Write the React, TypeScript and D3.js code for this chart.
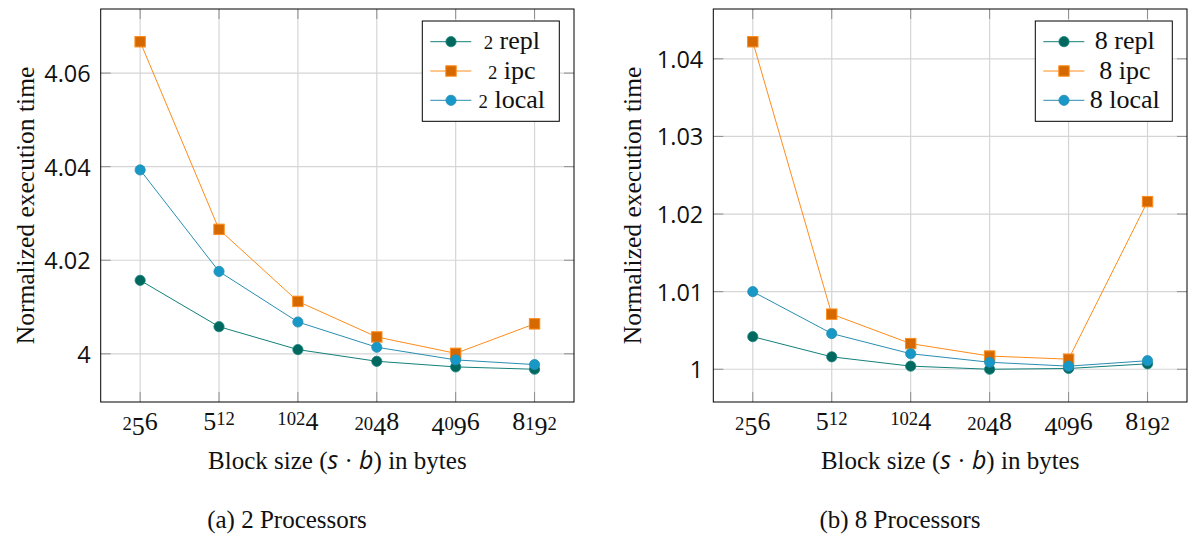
import React from 'react';
import * as d3 from 'd3';

// ---- data ----
const categories = ['256', '512', '1024', '2048', '4096', '8192'];
const repl2 = [4.0157, 4.0058, 4.0009, 3.9984, 3.9972, 3.9967];
const ipc2 = [4.0667, 4.0266, 4.0112, 4.0036, 4.0001, 4.0064];
const local2 = [4.0393, 4.0176, 4.0068, 4.0014, 3.9987, 3.9977];
const repl8 = [1.0042, 1.0016, 1.0004, 1.0, 1.0001, 1.0007];
const ipc8 = [1.0422, 1.0071, 1.0033, 1.0017, 1.0013, 1.0216];
const local8 = [1.01, 1.0046, 1.002, 1.0009, 1.0004, 1.0011];
const yTicks2 = [4, 4.02, 4.04, 4.06];
const yTicks8 = [1, 1.01, 1.02, 1.03, 1.04];
const seriesNames = ['repl', 'ipc', 'local'];

const STYLES: Record<string, { line: string; fill: string; stroke: string; shape: string }> = {
  repl: { line: '#13807a', fill: '#00695f', stroke: '#13807a', shape: 'circle' },
  ipc: { line: '#ff8c1a', fill: '#d66800', stroke: '#ff8c1a', shape: 'square' },
  local: { line: '#2a8db2', fill: '#1898c6', stroke: '#2a8db2', shape: 'circle' },
};

const SERIF = '"Liberation Serif", "Times New Roman", serif';
const SANS = '"Open Sans", "Noto Sans", sans-serif';
const FS = 25;
const SMALL = 0.72;
const DESC = 0.21;

// emulate old-style figures of the original typeface
function oldStyle(str: string, fs: number) {
  let cur = 0;
  const parts = str.split('').map((c, i) => {
    let size = fs;
    let off = 0;
    if ('012'.includes(c)) size = fs * SMALL;
    else if ('34579'.includes(c)) off = fs * DESC;
    const dy = off - cur;
    cur = off;
    return (
      <tspan key={i} dy={dy} fontSize={size}>
        {c}
      </tspan>
    );
  });
  return parts;
}

// labels are hung from their top edge (like TeX nodes anchored north)
function labelBaseline(str: string, topY: number, fs: number) {
  const hasAsc = /[68]/.test(str);
  return topY + (hasAsc ? 0.66 * fs : 0.66 * SMALL * fs);
}

function Marker({ shape, cx, cy, st }: any) {
  if (shape === 'square') {
    return <rect x={cx - 5.2} y={cy - 5.2} width={10.4} height={10.4} fill={st.fill} stroke={st.stroke} strokeWidth={1} />;
  }
  return <circle cx={cx} cy={cy} r={5.1} fill={st.fill} stroke={st.stroke} strokeWidth={0.8} />;
}

function Panel({ left, right, top, bottom, series, yTicks, prefix, caption, captionX, yTitleX }: any) {
  const x = d3.scalePoint<string>().domain(categories).range([left, right]).padding(0.5);
  const all: number[] = series.flatMap((s: any) => s.values);
  const [mn, mx] = d3.extent(all) as [number, number];
  const pad = (mx - mn) * 0.1;
  const y = d3.scaleLinear().domain([mn - pad, mx + pad]).range([bottom, top]);
  const line = d3
    .line<number>()
    .x((_, i) => x(categories[i]) as number)
    .y((d) => y(d));
  const tickLen = 10;
  const fmt = (v: number) => String(+v.toFixed(2));
  const lw = 137;
  const lh = 100.3;
  const lx = right - 14.7 - lw;
  const ly = top + 12;
  const cx = (left + right) / 2;
  const cy = (top + bottom) / 2;

  return (
    <g>
      {/* grid */}
      {categories.map((c) => (
        <line key={'gx' + c} x1={x(c)} x2={x(c)} y1={top} y2={bottom} stroke="#d5d5d5" strokeWidth={1.2} />
      ))}
      {yTicks.map((t: number) => (
        <line key={'gy' + t} x1={left} x2={right} y1={y(t)} y2={y(t)} stroke="#d5d5d5" strokeWidth={1.2} />
      ))}
      {/* ticks */}
      {categories.map((c) => (
        <g key={'tx' + c}>
          <line x1={x(c)} x2={x(c)} y1={bottom} y2={bottom - tickLen} stroke="#8f8f8f" strokeWidth={1} />
          <line x1={x(c)} x2={x(c)} y1={top} y2={top + tickLen} stroke="#8f8f8f" strokeWidth={1} />
        </g>
      ))}
      {yTicks.map((t: number) => (
        <g key={'ty' + t}>
          <line x1={left} x2={left + tickLen} y1={y(t)} y2={y(t)} stroke="#8f8f8f" strokeWidth={1} />
          <line x1={right} x2={right - tickLen} y1={y(t)} y2={y(t)} stroke="#8f8f8f" strokeWidth={1} />
        </g>
      ))}
      {/* series */}
      {series.map((s: any) => {
        const st = STYLES[s.name];
        return (
          <g key={s.name}>
            <path d={line(s.values) as string} fill="none" stroke={st.line} strokeWidth={1} />
            {s.values.map((v: number, i: number) => (
              <Marker key={i} shape={st.shape} cx={x(categories[i])} cy={y(v)} st={st} />
            ))}
          </g>
        );
      })}
      {/* frame */}
      <rect x={left} y={top} width={right - left} height={bottom - top} fill="none" stroke="#000" strokeWidth={1} />
      {/* y tick labels */}
      {yTicks.map((t: number) => (
        <text
          key={'yl' + t}
          x={left - 10}
          y={y(t)}
          textAnchor="end"
          dominantBaseline="central"
          fontFamily={SANS}
          fontSize={23.5}
          fill="#111"
        >
          {fmt(t)}
        </text>
      ))}
      {/* x tick labels */}
      {categories.map((c) => (
        <text
          key={'xl' + c}
          x={x(c)}
          y={labelBaseline(c, 413, FS)}
          textAnchor="middle"
          fontFamily={SERIF}
          fill="#111"
        >
          {oldStyle(c, FS + 1)}
        </text>
      ))}
      {/* axis titles */}
      <text x={cx} y={469} textAnchor="middle" fontFamily={SERIF} fontSize={FS} fill="#111">
        Block size (
        <tspan fontFamily={SANS} fontStyle="italic">s</tspan>
        {' · '}
        <tspan fontFamily={SANS} fontStyle="italic">b</tspan>) in bytes
      </text>
      <text
        transform={`translate(${yTitleX},${cy}) rotate(-90)`}
        textAnchor="middle"
        fontFamily={SERIF}
        fontSize={FS + 0.5}
        fill="#111"
      >
        Normalized execution time
      </text>
      {/* caption */}
      <text x={captionX} y={528} textAnchor="middle" fontFamily={SERIF} fontSize={FS} fill="#111">
        {caption}
      </text>
      {/* legend */}
      <rect x={lx} y={ly} width={lw} height={lh} fill="#fff" stroke="#000" strokeWidth={1} />
      {series.map((s: any, i: number) => {
        const st = STYLES[s.name];
        const ry = ly + 20.7 + i * 29.3;
        return (
          <g key={'lg' + s.name}>
            <line x1={lx + 8} x2={lx + 49} y1={ry} y2={ry} stroke={st.line} strokeWidth={1} />
            <Marker shape={st.shape} cx={lx + 28.7} cy={ry} st={st} />
            <text
              x={lx + 89.5}
              y={ry + 0.3 * FS}
              textAnchor="middle"
              fontFamily={SERIF}
              fontSize={FS + 1}
              fill="#111"
            >
              {oldStyle(prefix, FS + 1)}
              <tspan fontSize={FS + 1}>{' ' + s.name}</tspan>
            </text>
          </g>
        );
      })}
    </g>
  );
}

export default function App() {
  const seriesA = [
    { name: seriesNames[0], values: repl2 },
    { name: seriesNames[1], values: ipc2 },
    { name: seriesNames[2], values: local2 },
  ];
  const seriesB = [
    { name: seriesNames[0], values: repl8 },
    { name: seriesNames[1], values: ipc8 },
    { name: seriesNames[2], values: local8 },
  ];
  return (
    <svg
      width={1189}
      height={535}
      style={{ position: 'absolute', left: 0, top: 0, background: '#fff', display: 'block' }}
    >
      <rect x={0} y={0} width={1189} height={535} fill="#fff" />
      <Panel
        left={100.7}
        right={574}
        top={9}
        bottom={402}
        series={seriesA}
        yTicks={yTicks2}
        prefix="2"
        caption="(a) 2 Processors"
        captionX={287}
        yTitleX={34}
      />
      <Panel
        left={713.3}
        right={1187}
        top={9}
        bottom={402}
        series={seriesB}
        yTicks={yTicks8}
        prefix="8"
        caption="(b) 8 Processors"
        captionX={900}
        yTitleX={641}
      />
    </svg>
  );
}
